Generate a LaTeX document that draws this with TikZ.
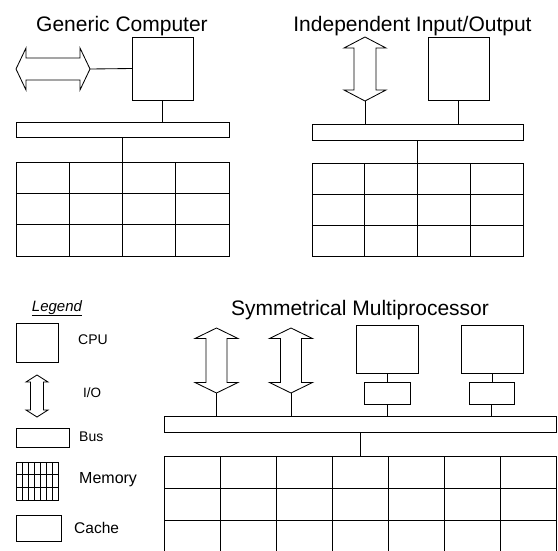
\documentclass[tikz,border=0pt]{standalone}
\usepackage{fontspec}
\setmainfont{Liberation Sans}
\usetikzlibrary{calc}

\tikzset{
  wire/.style={line width=0.85pt, draw=black},
  box/.style 2 args={wire, rectangle, inner sep=0pt, outer sep=0pt,
    minimum width=#1pt, minimum height=#2pt},
  title/.style={font=\fontsize{21}{25}\selectfont, anchor=base, inner sep=0pt},
  legtext/.style={font=\fontsize{#1}{#1}\selectfont, anchor=west, inner sep=0pt},
  % hollow double-headed arrow along the local y axis:
  % total length, head half-width, shaft half-width, head length
  pics/dblarrow/.style n args={4}{code={
    \draw[wire, fill=white] (0,{-#1/2}) -- ({#2},{-#1/2+#4}) -- ({#3},{-#1/2+#4})
      -- ({#3},{#1/2-#4}) -- ({#2},{#1/2-#4}) -- (0,{#1/2})
      -- ({-#2},{#1/2-#4}) -- ({-#3},{#1/2-#4}) -- ({-#3},{-#1/2+#4})
      -- ({-#2},{-#1/2+#4}) -- cycle;
    \coordinate (-top) at (0,{-#1/2});
    \coordinate (-bot) at (0,{#1/2});
  }}
}

% inner lines of a memory block: name, columns, rows
\newcommand\drawmemgrid[3]{%
  \pgfmathtruncatemacro\memlastc{#2-1}%
  \pgfmathtruncatemacro\memlastr{#3-1}%
  \foreach \i in {1,...,\memlastc}
    \draw[wire] ($(#1.north west)!\i/#2!(#1.north east)$) -- ($(#1.south west)!\i/#2!(#1.south east)$);
  \foreach \j in {1,...,\memlastr}
    \draw[wire] ($(#1.north west)!\j/#3!(#1.south west)$) -- ($(#1.north east)!\j/#3!(#1.south east)$);
}

\begin{document}
\begin{tikzpicture}[x=1pt, y=-1pt]
\useasboundingbox (0,0) rectangle (558,550);

% ---------- Generic computer ----------
\node[title] (tA) at (122,31) {Generic Computer};
\pic[rotate=90] (ioA) at (53,69) {dblarrow={74}{21}{11}{10}};
\node[box={61}{63}] (cpuA) at (162.5,68.5) {};
\node[box={213}{15}] (busA) at (122.5,129.5) {};
\node[box={213}{94}] (memA) at (122.5,209) {};
\drawmemgrid{memA}{4}{3}
\draw[wire] (ioA-bot) -- (cpuA.west);
\draw[wire] (cpuA.south) -- (cpuA.south |- busA.north);
\draw[wire] (busA.south) -- (memA.north);

% ---------- Independent input/output ----------
\node[title] (tB) at (412.5,31) {Independent Input/Output};
\pic (ioB) at (365,69) {dblarrow={64}{21}{11}{11}};
\node[box={61}{63}] (cpuB) at (458.5,68.5) {};
\node[box={211}{16}] (busB) at (417.5,132) {};
\node[box={211}{93}] (memB) at (417.5,209.5) {};
\drawmemgrid{memB}{4}{3}
\draw[wire] (ioB-bot) -- (ioB-bot |- busB.north);
\draw[wire] (cpuB.south) -- (cpuB.south |- busB.north);
\draw[wire] (busB.south) -- (memB.north);

% ---------- Symmetrical multiprocessor ----------
\node[title] (tC) at (360,315) {Symmetrical Multiprocessor};
\pic (ioC1) at (216.5,360.5) {dblarrow={65}{21.5}{10.5}{10.5}};
\pic (ioC2) at (291,360.5) {dblarrow={65}{21.5}{10.5}{10.5}};
\node[box={62}{48}] (cpuC1) at (387,349) {};
\node[box={46}{22}] (cacheC1) at (387,393) {};
\node[box={62}{48}] (cpuC2) at (492,349) {};
\node[box={45}{22}] (cacheC2) at (491.5,393) {};
\node[box={392}{16}] (busC) at (360,424) {};
\node[box={392}{96}] (memC) at (360,504) {};
\drawmemgrid{memC}{7}{3}
\draw[wire] (ioC1-bot) -- (ioC1-bot |- busC.north);
\draw[wire] (ioC2-bot) -- (ioC2-bot |- busC.north);
\draw[wire] (cpuC1.south) -- (cacheC1.north);
\draw[wire] (cacheC1.south) -- (cacheC1.south |- busC.north);
\draw[wire] (cpuC2.south) -- (cpuC2.south |- cacheC2.north);
\draw[wire] (cacheC2.south) -- (cacheC2.south |- busC.north);
\draw[wire] (busC.south) -- (memC.north);

% ---------- Legend ----------
\node[font=\fontsize{15}{17}\selectfont\itshape, anchor=base, inner sep=0pt] (leg) at (57,311) {\underline{Legend}};
\node[box={42}{39}] (lcpu) at (37,342.5) {};
\node[legtext=14] (lcpuT) at (78,340) {CPU};
\pic (lio) at (37,396) {dblarrow={42}{11}{6.5}{7}};
\node[legtext=13.5] (lioT) at (83,393) {I/O};
\node[box={53}{19}] (lbus) at (42.5,437.5) {};
\node[legtext=14] (lbusT) at (79,437) {Bus};
\node[box={42}{38}] (lmem) at (37,481) {};
\drawmemgrid{lmem}{7}{3}
\node[legtext=16] (lmemT) at (79,480) {Memory};
\node[box={45}{26}] (lcache) at (38.5,528) {};
\node[legtext=15.5] (lcacheT) at (74,528) {Cache};
\end{tikzpicture}
\end{document}
